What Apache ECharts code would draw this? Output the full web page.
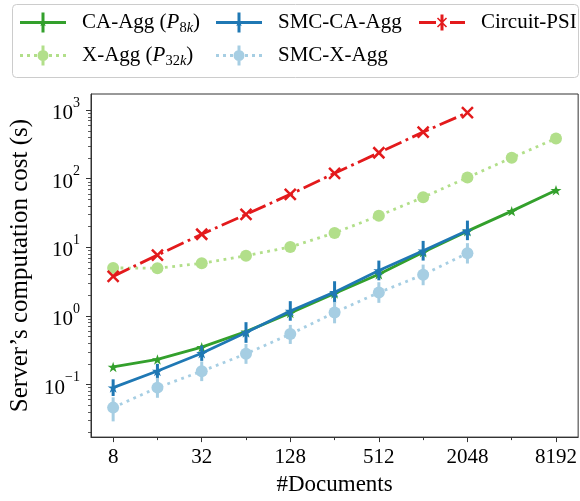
<!DOCTYPE html>
<html><head><meta charset="utf-8">
<script src="https://cdn.jsdelivr.net/npm/echarts@6/dist/echarts.min.js"></script>
<style>html,body{margin:0;padding:0;background:#fff}#c{width:580px;height:501px}</style>
</head><body><div id="c"></div>
<script>
// ---- data ----
const docs = [8, 16, 32, 64, 128, 256, 512, 1024, 2048, 4096, 8192];
const caAgg      = [0.18, 0.232, 0.35, 0.59, 1.1, 2.12, 4.05, 8.45, 17.2, 33.7, 68];
const caAggLow   = [0.17, 0.22, 0.33, 0.56, 1.04, 2.0, 3.85, 8.0, 16.3, 32.0, 64.5];
const caAggHigh  = [0.19, 0.245, 0.37, 0.62, 1.16, 2.24, 4.25, 8.9, 18.1, 35.4, 71.5];
const xAgg       = [5.0, 4.95, 5.85, 7.55, 10.1, 16.2, 28.8, 53.6, 104, 202, 387];
const smcCaAgg     = [0.09, 0.157, 0.286, 0.574, 1.18, 2.22, 4.6, 8.9, 17.6];
const smcCaAggLow  = [0.068, 0.122, 0.221, 0.405, 0.85, 1.54, 3.3, 6.4, 12.7];
const smcCaAggHigh = [0.119, 0.20, 0.37, 0.81, 1.64, 3.2, 6.4, 12.4, 24.5];
const smcXAgg      = [0.046, 0.09, 0.156, 0.28, 0.543, 1.12, 2.19, 3.98, 8.2];
const smcXAggLow   = [0.029, 0.064, 0.112, 0.2, 0.39, 0.78, 1.55, 2.8, 5.8];
const smcXAggHigh  = [0.065, 0.125, 0.217, 0.39, 0.74, 1.6, 3.1, 5.6, 11.5];
const circuitPsi = [3.77, 7.7, 15.5, 30.1, 59.2, 120, 239, 479, 918];

const xMajorTicks = [8, 32, 128, 512, 2048, 8192];
const xMinorTicks = [16, 64, 256, 1024, 4096];
const yMajorTicks = [0.1, 1, 10, 100, 1000];
const yMinorTicks = [];
[0.01, 0.1, 1, 10, 100].forEach(d => { for (let k = 2; k <= 9; k++) yMinorTicks.push(+(d * k).toPrecision(3)); });
const X_MIN = Math.pow(2, 2.5), X_MAX = Math.pow(2, 13.5);
const Y_MIN = 0.0171, Y_MAX = 1718;

const C = { green: '#33a02c', lgreen: '#b2df8a', blue: '#1f78b4', lblue: '#a6cee3', red: '#e31a1c' };
const FONT = '"Liberation Serif","Times New Roman",serif';
const STAR = 'path://M10 0L12.245 6.91L19.511 6.91L13.633 11.18L15.878 18.09L10 13.82L4.122 18.09L6.367 11.18L0.489 6.91L7.755 6.91Z';
const XMARK = 'path://M0 0L10 10M10 0L0 10';

const pairs = (xs, ys) => ys.map((v, i) => [xs[i], v]);
const triples = (xs, lo, hi) => lo.map((v, i) => [xs[i], v, hi[i]]);

// legend icons (46 x 20 box)
const iconStar = 'M23 5.5L24.01 8.61L27.28 8.61L24.63 10.53L25.65 13.64L23 11.72L20.35 13.64L21.37 10.53L18.72 8.61L21.99 8.61Z';
const solidIcon = 'path://M0 8.5h46v3h-46zM21.5 0h3v20h-3z' + iconStar;
const dottedIcon = 'path://M0 8.5h3v3h-3zM7 8.5h3v3h-3zM14 8.5h3v3h-3zM29 8.5h3v3h-3zM36 8.5h3v3h-3zM43 8.5h3v3h-3zM21.5 0h3v20h-3zM17.5 10a5.5 5.5 0 1 1 11 0a5.5 5.5 0 1 1 -11 0z';
const dashDotIcon = 'path://M0 8.5h17v3h-17zM31 8.5h15v3h-15zM21.5 2h3v16h-3zM19.06 4.94L28.06 13.94L26.94 15.06L17.94 6.06zM26.94 4.94L28.06 6.06L19.06 15.06L17.94 13.94z';

function errBar(name, color, lo, hi, z) {
  return {
    type: 'custom', name: name, z: z, silent: true,
    data: triples(docs, lo, hi),
    encode: { x: 0, y: [1, 2] },
    renderItem: function (params, api) {
      const x = api.value(0);
      const p1 = api.coord([x, api.value(1)]);
      const p2 = api.coord([x, api.value(2)]);
      return { type: 'line', shape: { x1: p1[0], y1: p1[1], x2: p2[0], y2: p2[1] },
               style: { stroke: color, lineWidth: 3 } };
    }
  };
}

const LFS = 21;
const legendRich = {
  n: { fontFamily: FONT, fontSize: LFS, color: '#000', lineHeight: 26, verticalAlign: 'middle' },
  i: { fontFamily: FONT, fontSize: LFS, fontStyle: 'italic', color: '#000', lineHeight: 26 },
  s: { fontFamily: FONT, fontSize: 14.5, color: '#000', lineHeight: 26, verticalAlign: 'bottom' },
  si: { fontFamily: FONT, fontSize: 14.5, fontStyle: 'italic', color: '#000', lineHeight: 26, verticalAlign: 'bottom' }
};
const legendFmt = function (name) {
  if (name === 'CA-Agg (P8k)') return '{n|CA-Agg (}{i|P}{s|8}{si|k}{n|)}';
  if (name === 'X-Agg (P32k)') return '{n|X-Agg (}{i|P}{s|32}{si|k}{n|)}';
  return '{n|' + name + '}';
};
function mkLegend(name, icon, left, top) {
  return {
    data: [{ name: name, icon: icon }],
    left: left, top: top, padding: 0, orient: 'vertical',
    itemWidth: 46, itemHeight: 20, selectedMode: false,
    itemStyle: { borderWidth: 0 },
    formatter: legendFmt,
    textStyle: { fontFamily: FONT, fontSize: LFS, color: '#000', padding: [0, 0, 0, 11], rich: legendRich }
  };
}

const yLabelFmt = function (v) {
  const e = Math.round(Math.log10(v));
  return '{b|10}{p|' + (e < 0 ? '\u2212' + (-e) : e) + '}';
};

const option = {
  animation: false,
  backgroundColor: '#fff',
  graphic: [{
    type: 'rect', shape: { x: 12.5, y: 4.5, width: 566, height: 73, r: 4 },
    style: { fill: 'rgba(255,255,255,0.8)', stroke: '#cccccc', lineWidth: 1 }, z: 0
  }],
  legend: [
    mkLegend('CA-Agg (P8k)', solidIcon, 20, 12),
    mkLegend('X-Agg (P32k)', dottedIcon, 20, 45),
    mkLegend('SMC-CA-Agg', solidIcon, 216, 12),
    mkLegend('SMC-X-Agg', dottedIcon, 216, 45),
    mkLegend('Circuit-PSI', dashDotIcon, 419, 12)
  ],
  grid: { left: 91, top: 94, width: 491, height: 348, show: true, borderColor: '#333', borderWidth: 1, backgroundColor: 'transparent' },
  xAxis: [{
    type: 'log', logBase: 2, min: X_MIN, max: X_MAX, position: 'bottom',
    axisLine: { show: true, lineStyle: { color: '#333', width: 1 } },
    axisTick: { show: true, length: 5, lineStyle: { color: '#333', width: 1 }, customValues: xMajorTicks },
    axisLabel: { customValues: xMajorTicks, formatter: v => String(Math.round(v)), fontFamily: FONT, fontSize: 21, color: '#000', margin: 10 },
    splitLine: { show: false },
    name: '#Documents', nameLocation: 'middle', nameGap: 34,
    nameTextStyle: { fontFamily: FONT, fontSize: 23, color: '#000' }
  }, {
    type: 'log', logBase: 2, min: X_MIN, max: X_MAX, position: 'bottom',
    axisLine: { show: false },
    axisTick: { show: true, length: 3, lineStyle: { color: '#333', width: 1 }, customValues: xMinorTicks },
    axisLabel: { show: false }, splitLine: { show: false }
  }],
  yAxis: [{
    type: 'log', logBase: 10, min: Y_MIN, max: Y_MAX, position: 'left',
    axisLine: { show: true, lineStyle: { color: '#333', width: 1 } },
    axisTick: { show: true, length: 5, lineStyle: { color: '#333', width: 1 }, customValues: yMajorTicks },
    axisLabel: {
      customValues: yMajorTicks, formatter: yLabelFmt, margin: 11,
      rich: {
        b: { fontFamily: FONT, fontSize: 21, color: '#000', lineHeight: 28, verticalAlign: 'bottom' },
        p: { fontFamily: FONT, fontSize: 14, color: '#000', lineHeight: 28, verticalAlign: 'top' }
      }
    },
    splitLine: { show: false },
    name: 'Server\u2019s computation cost (s)', nameLocation: 'middle', nameGap: 50,
    nameTextStyle: { fontFamily: FONT, fontSize: 25, color: '#000' }
  }, {
    type: 'log', logBase: 10, min: Y_MIN, max: Y_MAX, position: 'left',
    axisLine: { show: false },
    axisTick: { show: true, length: 3, lineStyle: { color: '#333', width: 0.8 }, customValues: yMinorTicks },
    axisLabel: { show: false }, splitLine: { show: false }
  }],
  series: [
    errBar('e1', C.green, caAggLow, caAggHigh, 2),
    {
      type: 'line', name: 'CA-Agg (P8k)', z: 3, data: pairs(docs, caAgg),
      symbol: STAR, symbolSize: 11, symbolKeepAspect: true, showAllSymbol: true,
      lineStyle: { color: C.green, width: 2.8 }, itemStyle: { color: C.green }
    },
    {
      type: 'line', name: 'X-Agg (P32k)', z: 5, data: pairs(docs, xAgg),
      symbol: 'circle', symbolSize: 12, showAllSymbol: true,
      lineStyle: { color: C.lgreen, width: 2.8, type: [2.8, 4.6], cap: 'butt' }, itemStyle: { color: C.lgreen }
    },
    errBar('e3', C.blue, smcCaAggLow, smcCaAggHigh, 6),
    {
      type: 'line', name: 'SMC-CA-Agg', z: 7, data: pairs(docs, smcCaAgg),
      symbol: STAR, symbolSize: 11, symbolKeepAspect: true, showAllSymbol: true,
      lineStyle: { color: C.blue, width: 2.8 }, itemStyle: { color: C.blue }
    },
    errBar('e4', C.lblue, smcXAggLow, smcXAggHigh, 8),
    {
      type: 'line', name: 'SMC-X-Agg', z: 9, data: pairs(docs, smcXAgg),
      symbol: 'circle', symbolSize: 12, showAllSymbol: true,
      lineStyle: { color: C.lblue, width: 2.8, type: [2.8, 4.6], cap: 'butt' }, itemStyle: { color: C.lblue }
    },
    {
      type: 'line', name: 'Circuit-PSI', z: 11, data: pairs(docs, circuitPsi),
      symbol: XMARK, symbolSize: 11, showAllSymbol: true,
      lineStyle: { color: C.red, width: 2.8, type: [18, 4.6, 2.8, 4.6], cap: 'butt' },
      itemStyle: { color: C.red, borderColor: C.red, borderWidth: 2.5 }
    }
  ]
};
const chart = echarts.init(document.getElementById('c'), null, { renderer: 'canvas' });
chart.setOption(option);
</script></body></html>
